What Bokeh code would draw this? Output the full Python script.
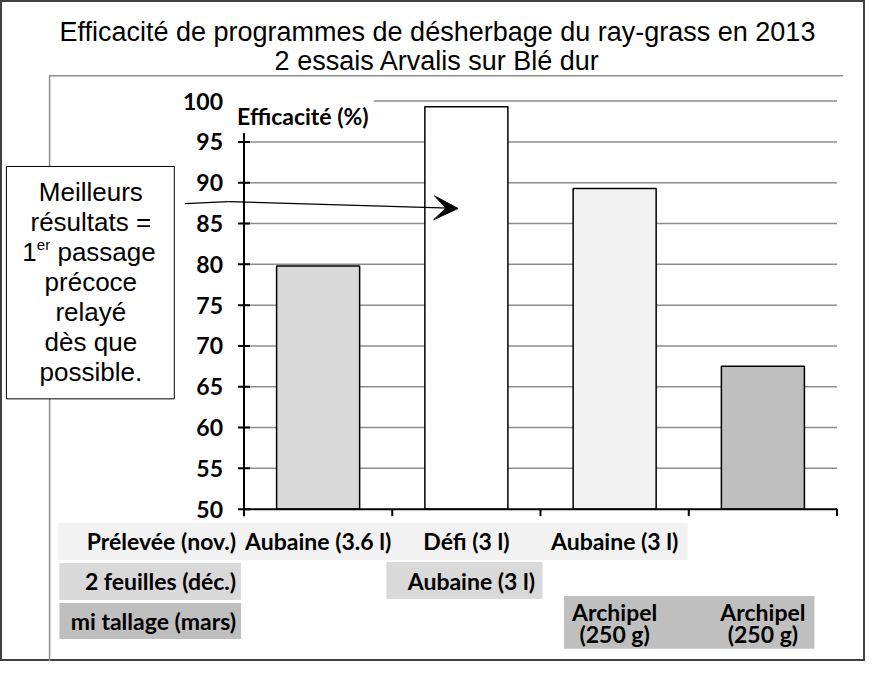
import math
from bokeh.plotting import figure
from bokeh.models import Range1d, Arrow, VeeHead
from bokeh.core.properties import value
from bokeh.embed import file_html
from bokeh.resources import INLINE

# ---------------- data ----------------
title_lines = ["Efficacité de programmes de désherbage du ray-grass en 2013",
               "2 essais Arvalis sur Blé dur"]
y_axis_title = "Efficacité (%)"
programmes = ["Aubaine (3.6 l)",
              "Défi (3 l) + Aubaine (3 l)",
              "Aubaine (3 l) + Archipel (250 g)",
              "Archipel (250 g)"]
efficacite = [79.8, 99.3, 89.3, 67.5]
bar_colors = ["#d9d9d9", "#ffffff", "#f2f2f2", "#bfbfbf"]
y_ticks = [50, 55, 60, 65, 70, 75, 80, 85, 90, 95, 100]
stages = ["Prélevée (nov.)", "2 feuilles (déc.)", "mi tallage (mars)"]
stage_colors = ["#f2f2f2", "#d9d9d9", "#bfbfbf"]
row_prelevee = ["Aubaine (3.6 l)", "Défi (3 l)", "Aubaine (3 l)", ""]
row_2feuilles = ["", "Aubaine (3 l)", "", ""]
row_tallage_1 = ["", "", "Archipel", "Archipel"]
row_tallage_2 = ["", "", "(250 g)", "(250 g)"]
note_lines = ["Meilleurs", "résultats =", None, "précoce", "relayé", "dès que", "possible."]
note_first = ["1", "er", "passage"]

# ---------------- layout (reference pixel space 881 x 677) ----------------
REF_W, REF_H = 881, 677
W, H = 865, 661
AX_X0, AX_X1 = 248, 852      # x-axis pixel extent
Y_LO_PX, Y_HI_PX = 521, 103  # pixel of y=50 and y=100
n = len(programmes)
ppu_x = (AX_X1 - AX_X0) / n
ppu_y = (Y_LO_PX - Y_HI_PX) / (y_ticks[-1] - y_ticks[0])
x_start = -AX_X0 / ppu_x
x_end = (REF_W - AX_X0) / ppu_x
y_start = y_ticks[0] - (REF_H - Y_LO_PX) / ppu_y
y_end = y_ticks[0] + Y_LO_PX / ppu_y

p = figure(width=W, height=H, x_range=Range1d(x_start, x_end),
           y_range=Range1d(y_start, y_end), x_axis_type=None, y_axis_type=None,
           min_border=0, output_backend="svg", toolbar_location=None)
p.outline_line_color = "#404040"
p.outline_line_width = 3
p.background_fill_color = "white"
p.border_fill_color = "white"
p.extra_x_ranges = {"px": Range1d(0, REF_W)}
p.extra_y_ranges = {"py": Range1d(REF_H, 0)}
PX = dict(x_range_name="px", y_range_name="py")

GRID = "#8c8c8c"
LATO = value("Lato")
ARIAL = value("Liberation Sans")
BOLD_SIZE = "23px"

# plot area border (top and left)
p.line(x=[50, 50, 858], y=[REF_H, 77, 77], line_color=GRID, line_width=1.5, **PX)

# title
p.text(x=[445, 445], y=[32, 62], text=title_lines, text_font=ARIAL,
       text_font_size="27px", text_align="center", text_baseline="middle",
       text_color="black", **PX)

# gridlines
gy = y_ticks[1:]
p.segment(x0=[0] * len(gy), x1=[n] * len(gy), y0=gy, y1=gy,
          line_color=GRID, line_width=1.5)

# bars
p.vbar(x=[i + 0.5 for i in range(n)], top=efficacite, bottom=y_ticks[0],
       width=0.56, fill_color=bar_colors, line_color="black", line_width=1.5)

# axes
p.segment(x0=[0, 0], y0=[y_ticks[0], y_ticks[0]], x1=[0, n],
          y1=[y_ticks[-1], y_ticks[0]], line_color="black", line_width=2)
p.scatter(x=[0] * len(y_ticks), y=y_ticks, marker="dash", size=12,
          line_color="black", line_width=2)
p.ray(x=list(range(n + 1)), y=[y_ticks[0]] * (n + 1), length=7,
      length_units="screen", angle=-math.pi / 2, line_color="black", line_width=2)
p.text(x=[0] * len(y_ticks), y=y_ticks, text=[str(t) for t in y_ticks],
       x_offset=-21, text_align="right", text_baseline="middle",
       text_font=LATO, text_font_style="bold", text_font_size=BOLD_SIZE,
       text_color="black")

# y axis title with white background
p.quad(left=[236], right=[380], top=[100], bottom=[136], fill_color="white",
       line_color=None, **PX)
p.text(x=[241], y=[118], text=[y_axis_title], text_align="left",
       text_baseline="middle", text_font=LATO, text_font_style="bold",
       text_font_size=BOLD_SIZE, text_color="black", **PX)

# note box
p.quad(left=[6], right=[177], top=[170], bottom=[408], fill_color="white",
       line_color="black", line_width=1, **PX)
ny = [196, 227, 258, 288, 319, 350, 381]
for txt, yy in zip(note_lines, ny):
    if txt is None:
        continue
    p.text(x=[92], y=[yy], text=[txt], text_align="center", text_baseline="middle",
           text_font=ARIAL, text_font_size="26px", text_color="black", **PX)
p.text(x=[37], y=[258], text=[note_first[0]], text_align="right",
       text_baseline="middle", text_font=ARIAL, text_font_size="26px", **PX)
p.text(x=[37], y=[250], text=[note_first[1]], text_align="left",
       text_baseline="middle", text_font=ARIAL, text_font_size="15px", **PX)
p.text(x=[58], y=[258], text=[note_first[2]], text_align="left",
       text_baseline="middle", text_font=ARIAL, text_font_size="26px", **PX)

# arrow
p.line(x=[188, 232], y=[208, 206], line_color="black", line_width=1.2, **PX)
p.add_layout(Arrow(x_start=232, y_start=206, x_end=466, y_end=213,
                   line_color="black", line_width=1.2,
                   end=VeeHead(size=24, fill_color="black", line_color="black"),
                   **PX))

# table below the axis
row_y = [554, 595, 636]
p.quad(left=[59, 60, 60, 393, 574], right=[700, 245, 245, 552, 829],
       top=[535, 576, 617, 575, 610], bottom=[573, 614, 654, 613, 664],
       fill_color=[stage_colors[0], stage_colors[1], stage_colors[2],
                   stage_colors[1], stage_colors[2]],
       line_color=None, **PX)
p.text(x=[240] * 3, y=row_y, text=stages, text_align="right", text_baseline="middle",
       text_font=LATO, text_font_style="bold", text_font_size=BOLD_SIZE,
       text_color="black", **PX)

def row_text(labels, ypx, shift=0):
    xs = [i + 0.5 for i, t in enumerate(labels) if t]
    ts = [t for t in labels if t]
    p.text(x=xs, y=[ypx] * len(xs), text=ts, text_align="center",
           text_baseline="middle", text_font=LATO, text_font_style="bold",
           text_font_size=BOLD_SIZE, text_color="black", x_offset=shift,
           y_range_name="py")

row_text(row_prelevee, row_y[0])
row_text(row_2feuilles, row_y[1], shift=5)
row_text(row_tallage_1, 626)
row_text(row_tallage_2, 649)

with open("out.html", "w") as f:
    f.write(file_html(p, INLINE))
